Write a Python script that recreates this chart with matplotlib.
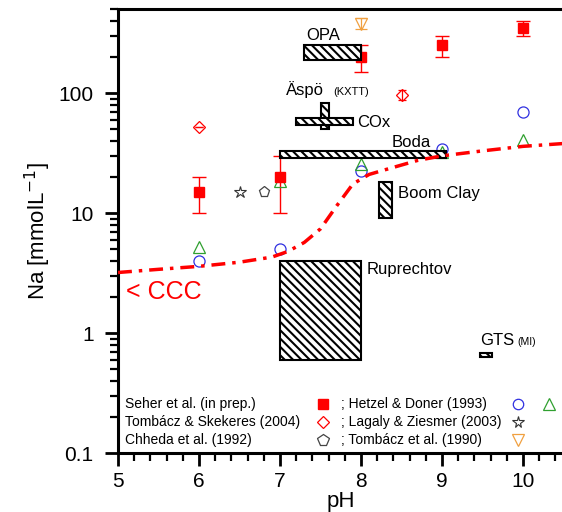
import matplotlib
matplotlib.use("Agg")
import matplotlib.pyplot as plt
from matplotlib.patches import Rectangle
from matplotlib.ticker import LogLocator, MultipleLocator, FixedLocator, FixedFormatter, NullFormatter

plt.rcParams["font.family"] = ["Liberation Sans", "DejaVu Sans"]
plt.rcParams["hatch.linewidth"] = 1.5

# ---- data ----
# Seher et al. (in prep.)  filled red squares with error bars
seher_ph = [6, 7, 8, 9, 10]
seher_na = [15, 20, 200, 250, 350]
seher_lo = [10, 10, 150, 200, 300]
seher_hi = [20, 30, 250, 300, 400]

# Tombacz & Szekeres (2004)
tomb04_ph = [6, 8.5]
tomb04_na = [52, 97]
tomb04_lo = [52, 88]
tomb04_hi = [52, 106]

# Hetzel & Doner (1993)
hetzel_ph = [6, 7, 8, 9, 10]
hetzel_circ = [4.0, 5.0, 22.5, 34, 70]
hetzel_tri = [5.2, 18.5, 25.5, 32, 41]

# Lagaly & Ziesmer (2003), Tombacz et al. (1990), Chheda et al. (1992)
lagaly_ph, lagaly_na = [6.5], [15]
tomb90_ph, tomb90_na = [6.8], [15]
chheda_ph, chheda_na = [8.0], [380]
chheda_lo, chheda_hi = [345], [420]

# CCC curve
ccc_ph = [5.0, 5.5, 6.0, 6.5, 6.9, 7.1, 7.3, 7.5, 7.7, 7.9, 8.1, 8.3, 8.7, 9.0, 9.5, 10.0, 10.5]
ccc_na = [3.2, 3.4, 3.6, 3.9, 4.3, 4.8, 5.7, 7.4, 11.5, 17.5, 21, 23, 27.5, 30, 33, 36, 38]

# site ranges: name, pH min, pH max, Na min, Na max
site_names = ["OPA", "Äspö", "COx", "Boda", "Boom Clay", "Ruprechtov", "GTS"]
site_ph_lo = [7.3, 7.5, 7.2, 7.0, 8.22, 7.0, 9.47]
site_ph_hi = [8.0, 7.6, 7.9, 9.05, 8.38, 8.0, 9.62]
site_na_lo = [190, 50, 54, 29, 9.1, 0.6, 0.63]
site_na_hi = [250, 83, 62, 33, 18, 4.0, 0.68]

fig = plt.figure(figsize=(5.62, 5.12), dpi=100)
ax = fig.add_axes([0.21, 0.115, 0.7927, 0.867])

# markers
ax.errorbar(seher_ph, seher_na,
            yerr=[[n - l for n, l in zip(seher_na, seher_lo)], [h - n for n, h in zip(seher_na, seher_hi)]],
            fmt="s", color="red", ms=7, capsize=5, elinewidth=1, capthick=1, zorder=3)
ax.errorbar(tomb04_ph, tomb04_na,
            yerr=[[n - l for n, l in zip(tomb04_na, tomb04_lo)], [h - n for n, h in zip(tomb04_na, tomb04_hi)]],
            fmt="D", mfc="none", mec="red", ecolor="red", ms=6.5, mew=0.9, capsize=3, elinewidth=0.9, zorder=3)
ax.plot(hetzel_ph, hetzel_circ, "o", mfc="none", mec="#3030e0", ms=8, mew=0.9, zorder=3)
ax.plot(hetzel_ph, hetzel_tri, "^", mfc="none", mec="#30a030", ms=9, mew=0.9, zorder=3)
ax.plot(lagaly_ph, lagaly_na, "*", mfc="none", mec="#333333", ms=9, mew=0.8, zorder=3)
ax.plot(tomb90_ph, tomb90_na, "p", mfc="none", mec="#444444", ms=8, mew=0.9, zorder=3)
ax.errorbar(chheda_ph, chheda_na,
            yerr=[[chheda_na[0] - chheda_lo[0]], [chheda_hi[0] - chheda_na[0]]],
            fmt="v", mfc="none", mec="#f0a040", ecolor="#f0a040", ms=8, mew=0.9, capsize=4, elinewidth=0.9, zorder=3)

# hatched boxes
for i in range(len(site_names)):
    ax.add_patch(Rectangle((site_ph_lo[i], site_na_lo[i]),
                           site_ph_hi[i] - site_ph_lo[i], site_na_hi[i] - site_na_lo[i],
                           facecolor="white", edgecolor="black", hatch="\\\\\\\\", lw=1.5, zorder=4))

# CCC line
ax.plot(ccc_ph, ccc_na, color="red", lw=2.5, dashes=[4, 2, 1, 2], zorder=5)

# labels for boxes
ax.text(7.32, 300, "OPA", fontsize=12, va="center", zorder=6)
ax.text(7.07, 96, "Äspö", fontsize=12, va="baseline", zorder=6)
ax.text(7.66, 96, "(KXTT)", fontsize=8, va="baseline", zorder=6)
ax.text(7.95, 57, "COx", fontsize=12, va="center", zorder=6)
ax.text(8.38, 39, "Boda", fontsize=12, va="center", zorder=6)
ax.text(8.46, 14.6, "Boom Clay", fontsize=12, va="center", zorder=6)
ax.text(8.07, 3.4, "Ruprechtov", fontsize=12, va="center", zorder=6)
ax.text(9.47, 0.8, "GTS", fontsize=12, va="baseline", zorder=6)
ax.text(9.93, 0.8, "(MI)", fontsize=7.5, va="baseline", zorder=6)
ax.text(5.1, 2.2, "< CCC", fontsize=18, color="red", va="center", zorder=6)

# legend built from text rows
rows_left = ["Seher et al. (in prep.)", "Tombácz & Skekeres (2004)", "Chheda et al. (1992)"]
rows_right = ["; Hetzel & Doner (1993)", "; Lagaly & Ziesmer (2003)", "; Tombácz et al. (1990)"]
row_y = [0.110, 0.070, 0.030]
for y, left, right in zip(row_y, rows_left, rows_right):
    ax.text(0.016, y, left, transform=ax.transAxes, fontsize=10, va="center")
    ax.text(0.5, y, right, transform=ax.transAxes, fontsize=10, va="center")
ax.plot([0.46], [row_y[0]], "s", color="red", ms=6.5, transform=ax.transAxes)
ax.plot([0.46], [row_y[1]], "D", mfc="none", mec="red", ms=6.5, mew=0.9, transform=ax.transAxes)
ax.plot([0.46], [row_y[2]], "p", mfc="none", mec="#444444", ms=8.5, mew=0.9, transform=ax.transAxes)
ax.plot([0.898], [row_y[0]], "o", mfc="none", mec="#3030e0", ms=7.5, mew=0.9, transform=ax.transAxes)
ax.plot([0.898], [row_y[1]], "*", mfc="none", mec="#333333", ms=8.5, mew=0.8, transform=ax.transAxes)
ax.plot([0.898], [row_y[2]], "v", mfc="none", mec="#f0a040", ms=8.5, mew=0.9, transform=ax.transAxes)
ax.plot([0.967], [row_y[0]], "^", mfc="none", mec="#30a030", ms=8.5, mew=0.9, transform=ax.transAxes)

# axes
ax.set_yscale("log")
ax.set_xlim(5, 10.5)
ax.set_ylim(0.1, 500)
ax.yaxis.set_major_locator(FixedLocator([0.1, 1, 10, 100]))
ax.yaxis.set_major_formatter(FixedFormatter(["0.1", "1", "10", "100"]))
ax.yaxis.set_minor_locator(LogLocator(base=10, subs=range(2, 10)))
ax.yaxis.set_minor_formatter(NullFormatter())
ax.xaxis.set_major_locator(MultipleLocator(1))
ax.xaxis.set_minor_locator(MultipleLocator(0.2))
ax.tick_params(which="major", direction="out", length=9.5, width=2, labelsize=15, pad=4)
ax.tick_params(axis="y", which="major", pad=8)
ax.tick_params(which="minor", direction="out", length=6, width=1.6)
ax.tick_params(top=False, right=False)
for side in ["left", "bottom", "top", "right"]:
    ax.spines[side].set_linewidth(2.2)

ax.set_xlabel("pH", fontsize=16, labelpad=0)
ax.set_ylabel("Na [mmolL$^{-1}$]", fontsize=16, labelpad=4)

fig.savefig("out.png", dpi=100)
